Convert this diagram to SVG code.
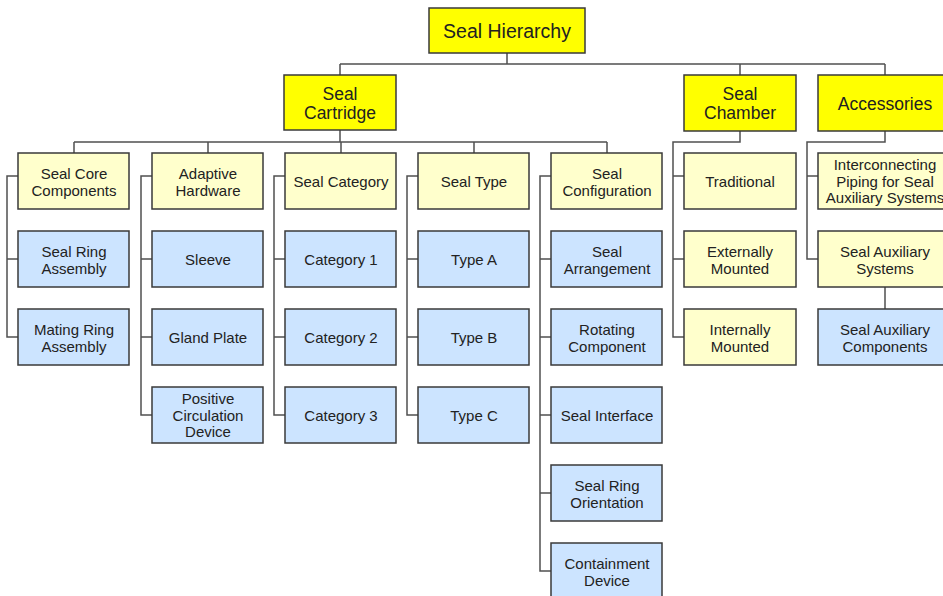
<svg xmlns="http://www.w3.org/2000/svg" width="943" height="596" viewBox="0 0 943 596">
<style>
rect{stroke:#3a3a3a;stroke-width:1.5}
.y{fill:#ffff00}
.ly{fill:#ffffcc}
.b{fill:#cce4ff}
text{font-family:"Liberation Sans",Arial,sans-serif;font-size:15px;fill:#222;text-anchor:middle}
.t1{font-size:19.5px}
.t2{font-size:17.5px}
#connectors path{fill:none;stroke:#505050;stroke-width:1.5}
</style>
<rect width="943" height="596" fill="#ffffff" style="stroke:none"/>
<g id="connectors">
<path d="M507 53V64M340 64H885M340 64V75M740 64V75M885 64V75"/>
<path d="M340 130V142M74 142H607M74 142V153M208 142V153M341 142V153M474 142V153M607 142V153"/>
<path d="M18 176H7V337H18M7 259H18"/>
<path d="M152 176H141V415H152M141 259H152M141 337H152"/>
<path d="M285 176H274V415H285M274 259H285M274 337H285"/>
<path d="M418 176H407V415H418M407 259H418M407 337H418"/>
<path d="M551 176H540V571H551M540 259H551M540 337H551M540 415H551M540 493H551"/>
<path d="M740 131V142H673V337H684M673 176H684M673 259H684"/>
<path d="M885 131V142H807V259H818M807 176H818M885 287V309"/>
</g>
<g id="seal-hierarchy"><rect class="y" x="429" y="8" width="156" height="45"/><text class="t1" x="507" y="37.5">Seal Hierarchy</text></g>
<g id="seal-cartridge"><rect class="y" x="284" y="75" width="112" height="55"/><text class="t2" x="340" y="99.5">Seal</text><text class="t2" x="340" y="118.5">Cartridge</text></g>
<g id="seal-chamber"><rect class="y" x="684" y="75" width="112" height="56"/><text class="t2" x="740" y="99.5">Seal</text><text class="t2" x="740" y="118.5">Chamber</text></g>
<g id="accessories"><rect class="y" x="818" y="75" width="134" height="56"/><text class="t2" x="885" y="109.5">Accessories</text></g>

<g id="seal-core-components"><rect class="ly" x="18" y="153" width="111" height="56"/><text x="74" y="178.5">Seal Core</text><text x="74" y="195.5">Components</text></g>
<g id="seal-ring-assembly"><rect class="b" x="18" y="231" width="111" height="56"/><text x="74" y="256.5">Seal Ring</text><text x="74" y="273.5">Assembly</text></g>
<g id="mating-ring-assembly"><rect class="b" x="18" y="309" width="111" height="56"/><text x="74" y="334.5">Mating Ring</text><text x="74" y="351.5">Assembly</text></g>

<g id="adaptive-hardware"><rect class="ly" x="152" y="153" width="111" height="56"/><text x="208" y="178.5">Adaptive</text><text x="208" y="195.5">Hardware</text></g>
<g id="sleeve"><rect class="b" x="152" y="231" width="111" height="56"/><text x="208" y="264.5">Sleeve</text></g>
<g id="gland-plate"><rect class="b" x="152" y="309" width="111" height="56"/><text x="208" y="342.5">Gland Plate</text></g>
<g id="positive-circulation-device"><rect class="b" x="152" y="387" width="111" height="56"/><text x="208" y="404">Positive</text><text x="208" y="420.5">Circulation</text><text x="208" y="437">Device</text></g>

<g id="seal-category"><rect class="ly" x="285" y="153" width="111" height="56"/><text x="341" y="186.5">Seal Category</text></g>
<g id="category-1"><rect class="b" x="285" y="231" width="111" height="56"/><text x="341" y="264.5">Category 1</text></g>
<g id="category-2"><rect class="b" x="285" y="309" width="111" height="56"/><text x="341" y="342.5">Category 2</text></g>
<g id="category-3"><rect class="b" x="285" y="387" width="111" height="56"/><text x="341" y="420.5">Category 3</text></g>

<g id="seal-type"><rect class="ly" x="418" y="153" width="111" height="56"/><text x="474" y="186.5">Seal Type</text></g>
<g id="type-a"><rect class="b" x="418" y="231" width="111" height="56"/><text x="474" y="264.5">Type A</text></g>
<g id="type-b"><rect class="b" x="418" y="309" width="111" height="56"/><text x="474" y="342.5">Type B</text></g>
<g id="type-c"><rect class="b" x="418" y="387" width="111" height="56"/><text x="474" y="420.5">Type C</text></g>

<g id="seal-configuration"><rect class="ly" x="551" y="153" width="111" height="56"/><text x="607" y="178.5">Seal</text><text x="607" y="195.5">Configuration</text></g>
<g id="seal-arrangement"><rect class="b" x="551" y="231" width="111" height="56"/><text x="607" y="256.5">Seal</text><text x="607" y="273.5">Arrangement</text></g>
<g id="rotating-component"><rect class="b" x="551" y="309" width="111" height="56"/><text x="607" y="334.5">Rotating</text><text x="607" y="351.5">Component</text></g>
<g id="seal-interface"><rect class="b" x="551" y="387" width="111" height="56"/><text x="607" y="420.5">Seal Interface</text></g>
<g id="seal-ring-orientation"><rect class="b" x="551" y="465" width="111" height="56"/><text x="607" y="490.5">Seal Ring</text><text x="607" y="507.5">Orientation</text></g>
<g id="containment-device"><rect class="b" x="551" y="543" width="111" height="56"/><text x="607" y="568.5">Containment</text><text x="607" y="585.5">Device</text></g>

<g id="traditional"><rect class="ly" x="684" y="153" width="112" height="56"/><text x="740" y="186.5">Traditional</text></g>
<g id="externally-mounted"><rect class="ly" x="684" y="231" width="112" height="56"/><text x="740" y="256.5">Externally</text><text x="740" y="273.5">Mounted</text></g>
<g id="internally-mounted"><rect class="ly" x="684" y="309" width="112" height="56"/><text x="740" y="334.5">Internally</text><text x="740" y="351.5">Mounted</text></g>

<g id="interconnecting-piping"><rect class="ly" x="818" y="153" width="134" height="56"/><text x="885" y="170">Interconnecting</text><text x="885" y="186.5">Piping for Seal</text><text x="885" y="203">Auxiliary Systems</text></g>
<g id="seal-auxiliary-systems"><rect class="ly" x="818" y="231" width="134" height="56"/><text x="885" y="256.5">Seal Auxiliary</text><text x="885" y="273.5">Systems</text></g>
<g id="seal-auxiliary-components"><rect class="b" x="818" y="309" width="134" height="56"/><text x="885" y="334.5">Seal Auxiliary</text><text x="885" y="351.5">Components</text></g>
</svg>
